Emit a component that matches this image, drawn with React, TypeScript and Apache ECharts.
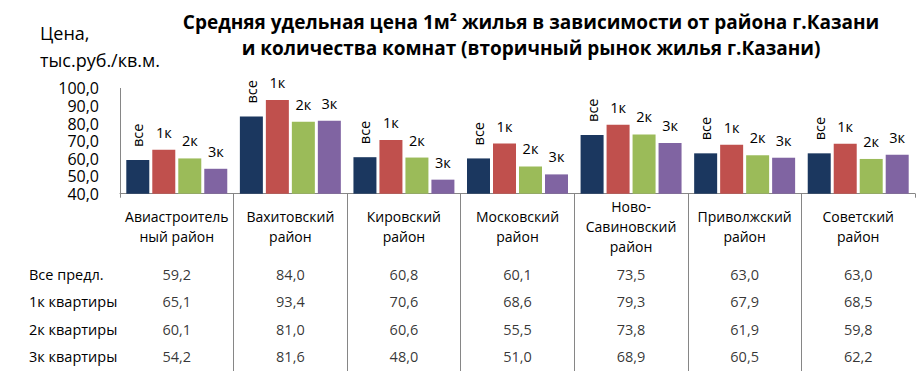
import React, { useEffect, useRef } from "react";
import * as echarts from "echarts";

const districts = [
  "Авиастроитель\nный район",
  "Вахитовский\nрайон",
  "Кировский\nрайон",
  "Московский\nрайон",
  "Ново-\nСавиновский\nрайон",
  "Приволжский\nрайон",
  "Советский\nрайон",
];
const rowNames = ["Все предл.", "1к квартиры", "2к квартиры", "3к квартиры"];
const barTags = ["все", "1к", "2к", "3к"];
const allOffers = [59.2, 84.0, 60.8, 60.1, 73.5, 63.0, 63.0];
const oneRoom = [65.1, 93.4, 70.6, 68.6, 79.3, 67.9, 68.5];
const twoRoom = [60.1, 81.0, 60.6, 55.5, 73.8, 61.9, 59.8];
const threeRoom = [54.2, 81.6, 48.0, 51.0, 68.9, 60.5, 62.2];
const yMin = 40;
const yMax = 100;
const yStep = 10;
const titleText =
  "Средняя удельная цена 1м² жилья в зависимости от района г.Казани\nи количества комнат (вторичный рынок жилья г.Казани)";
const yName = "Цена,\nтыс.руб./кв.м.";

const colors = ["#1B375F", "#C0504D", "#9BBB59", "#8064A2"];
const FONT = "Open Sans";
const GRAY = "#868686";

const fmt = (v: number) => v.toFixed(1).replace(".", ",");

export default function App() {
  const ref = useRef<HTMLDivElement>(null);
  useEffect(() => {
    if (!ref.current) return;
    const chart = echarts.init(ref.current, undefined, { renderer: "svg" });
    const rows = [allOffers, oneRoom, twoRoom, threeRoom];
    const gridLeft = 120;
    const gridWidth = 795;
    const option: any = {
      animation: false,
      textStyle: { fontFamily: FONT },
      grid: [
        { left: gridLeft, top: 88.4, width: gridWidth, height: 105.3 },
        { left: gridLeft, top: 260.25, width: gridWidth, height: 110 },
        { left: gridLeft, top: 193.7, width: gridWidth, height: 177.3 },
      ],
      xAxis: [
        {
          type: "category",
          gridIndex: 0,
          data: districts,
          axisLine: { lineStyle: { color: GRAY, width: 1 } },
          axisTick: { show: true, length: 4, interval: 0, lineStyle: { color: GRAY } },
          axisLabel: {
            interval: 0,
            margin: 33,
            verticalAlign: "middle",
            lineHeight: 20,
            fontSize: 14,
            color: "#000",
            fontFamily: FONT,
          },
        },
        {
          type: "category",
          gridIndex: 1,
          data: districts,
          show: false,
        },
        {
          type: "category",
          gridIndex: 2,
          data: districts,
          axisLine: { show: false },
          axisTick: { show: false },
          axisLabel: { show: false },
          splitLine: {
            show: true,
            interval: 0,
            showMinLine: false,
            showMaxLine: false,
            lineStyle: { color: GRAY, width: 1 },
          },
        },
      ],
      yAxis: [
        {
          type: "value",
          gridIndex: 0,
          min: yMin,
          max: yMax,
          interval: yStep,
          axisLine: { show: true, lineStyle: { color: GRAY } },
          axisTick: { show: false },
          splitLine: { show: false },
          axisLabel: {
            formatter: (v: number) => fmt(v),
            showMinLabel: true,
            showMaxLabel: true,
            fontSize: 16,
            lineHeight: 15,
            margin: 21,
            color: "#000",
            fontFamily: FONT,
          },
        },
        {
          type: "category",
          gridIndex: 1,
          data: rowNames,
          inverse: true,
          axisLine: { show: false },
          axisTick: { show: false },
          splitLine: { show: false },
          axisLabel: {
            margin: 91,
            align: "left",
            fontSize: 14.5,
            color: "#000",
            fontFamily: FONT,
          },
        },
        {
          type: "value",
          gridIndex: 2,
          show: false,
        },
      ],
      graphic: [
        {
          type: "text",
          x: 531,
          y: 35,
          style: {
            text: titleText,
            textAlign: "center",
            textVerticalAlign: "middle",
            lineHeight: 26,
            fontSize: 19,
            fontWeight: "bold",
            fontFamily: FONT,
            fill: "#000",
          },
        },
        {
          type: "text",
          x: 40,
          y: 46.5,
          style: {
            text: yName,
            textAlign: "left",
            textVerticalAlign: "middle",
            lineHeight: 27,
            fontSize: 18,
            fontFamily: FONT,
            fill: "#000",
          },
        },
      ],
      series: [
        ...rows.map((vals, r) => ({
          type: "bar",
          name: rowNames[r],
          xAxisIndex: 0,
          yAxisIndex: 0,
          data: vals,
          barWidth: 23,
          barGap: "13%",
          itemStyle: { color: colors[r] },
          label:
            r === 0
              ? {
                  show: true,
                  position: "top",
                  rotate: 90,
                  align: "left",
                  verticalAlign: "middle",
                  distance: 13,
                  formatter: () => barTags[r],
                  fontSize: 14.5,
                  color: "#000",
                  fontFamily: FONT,
                }
              : {
                  show: true,
                  position: "top",
                  distance: 10,
                  formatter: () => barTags[r],
                  fontSize: 14.5,
                  color: "#000",
                  fontFamily: FONT,
                },
        })),
        ...rows.map((vals, r) => ({
          type: "scatter",
          name: rowNames[r] + " table",
          xAxisIndex: 1,
          yAxisIndex: 1,
          data: vals.map((v, i) => [i, r, v]),
          symbolSize: 1,
          itemStyle: { color: "rgba(0,0,0,0)" },
          silent: true,
          label: {
            show: true,
            position: "inside",
            formatter: (p: any) => fmt(p.value[2]),
            fontSize: 14.5,
            color: "#000",
            fontFamily: FONT,
          },
        })),
      ],
    };
    chart.setOption(option);
    return () => chart.dispose();
  }, []);
  return (
    <div
      ref={ref}
      style={{ position: "fixed", left: 0, top: 0, width: 918, height: 371, background: "#fff" }}
    />
  );
}
